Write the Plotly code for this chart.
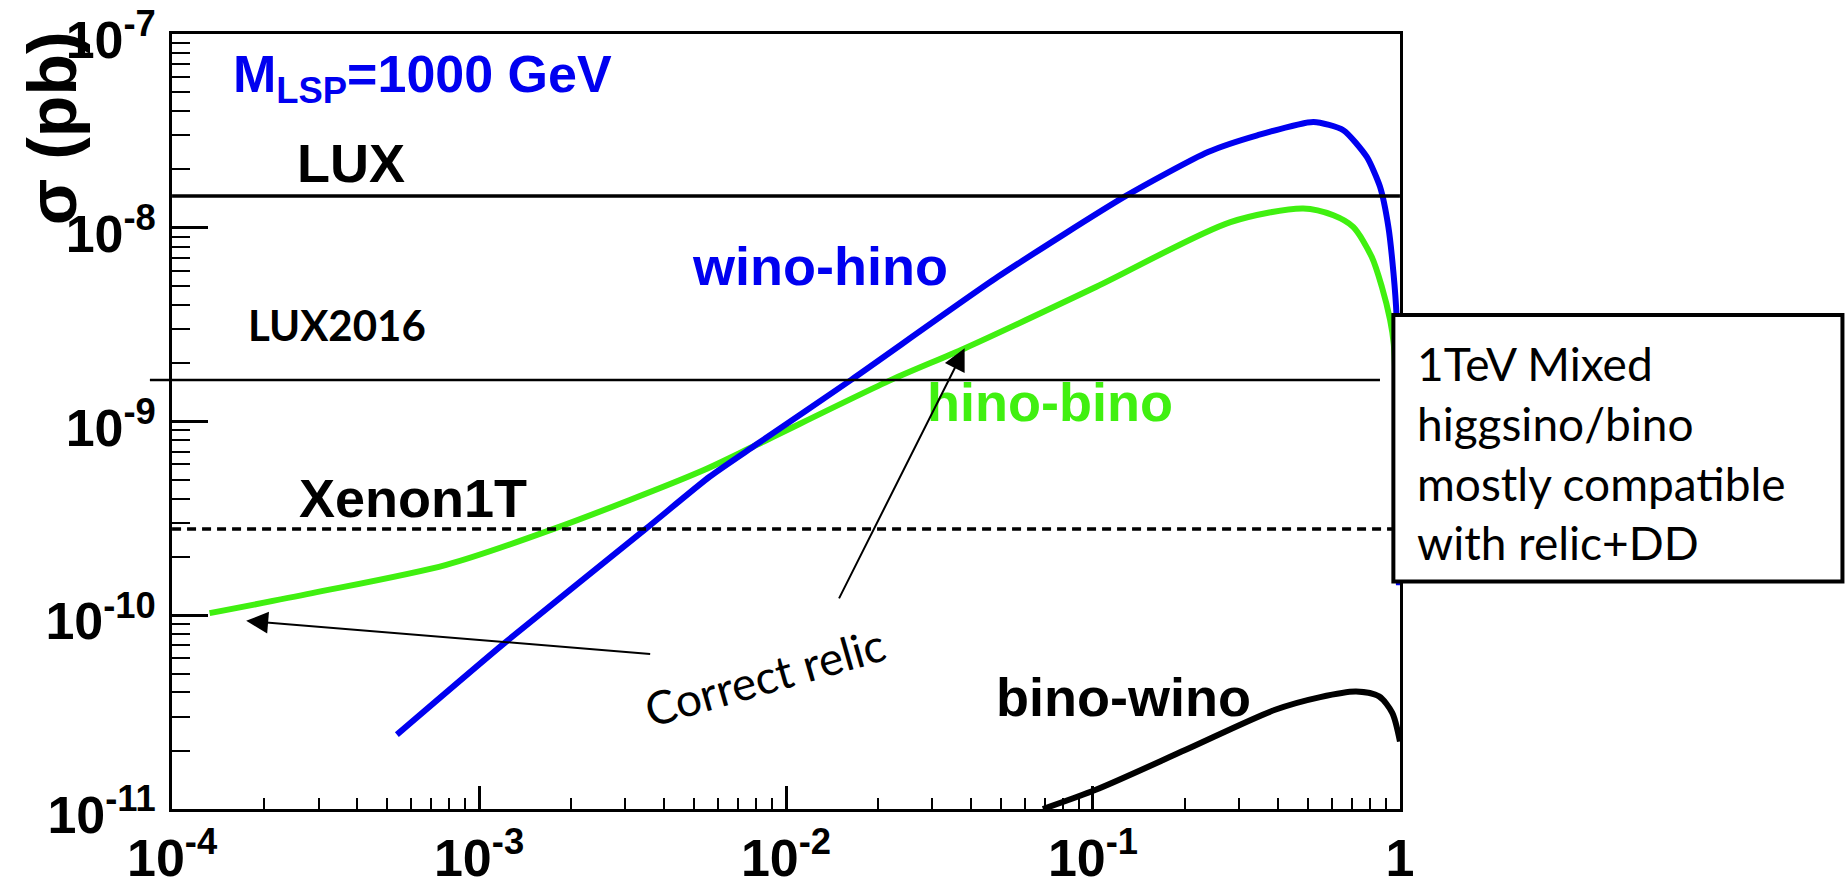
import plotly.graph_objects as go

# Spin-independent cross section (pb) versus mixing fraction, M_LSP = 1000 GeV
wino_hino_x = [5.4e-4, 1.21e-3, 3.5e-3, 5.65e-3, 8.0e-3, 1.63e-2, 4.9e-2, 0.128, 0.237,
               0.343, 0.523, 0.654, 0.78, 0.861, 0.917, 0.953, 0.975, 0.985, 0.9924]
wino_hino_y = [2.42e-11, 7.18e-11, 2.8e-10, 5.2e-10, 7.6e-10, 1.64e-9, 5.58e-9, 1.46e-8, 2.46e-8,
               3.0e-8, 3.52e-8, 3.19e-8, 2.32e-8, 1.63e-8, 1.01e-8, 5.8e-9, 3.5e-9, 1.2e-9, 1.43e-10]

hino_bino_x = [1.325e-4, 2.86e-4, 7.82e-4, 1.75e-3, 5.24e-3, 8.0e-3, 2.2e-2, 3.83e-2, 0.1026,
               0.2805, 0.484, 0.607, 0.704, 0.809, 0.873, 0.929, 0.955, 0.975]
hino_bino_y = [1.025e-10, 1.3e-10, 1.82e-10, 2.79e-10, 5.5e-10, 7.56e-10, 1.64e-9, 2.39e-9, 4.96e-9,
               1.07e-8, 1.258e-8, 1.16e-8, 1.01e-8, 7.08e-9, 4.96e-9, 3.34e-9, 2.5e-9, 1.0e-9]

bino_wino_x = [0.0687, 0.1026, 0.2005, 0.392, 0.55, 0.72, 0.855, 0.944, 1.0]
bino_wino_y = [1.0e-11, 1.26e-11, 2.02e-11, 3.25e-11, 3.78e-11, 4.04e-11, 3.81e-11, 3.13e-11, 2.23e-11]

# Direct-detection limits (pb)
lux_limit = 1.46e-8
lux2016_limit = 1.64e-9
xenon1t_limit = 2.79e-10

x_range = [1e-4, 1]
x_tick_vals = [1e-4, 1e-3, 1e-2, 1e-1, 1]
x_tick_text = ["10<sup>-4</sup>", "10<sup>-3</sup>", "10<sup>-2</sup>", "10<sup>-1</sup>", "1"]
y_tick_vals = [1e-11, 1e-10, 1e-9, 1e-8, 1e-7]
y_tick_text = ["10<sup>-11</sup>", "10<sup>-10</sup>", "10<sup>-9</sup>", "10<sup>-8</sup>", "10<sup>-7</sup>"]

x_minor = [m * 10.0 ** e for e in range(-4, 0) for m in range(2, 10)]
y_minor = [m * 10.0 ** e for e in range(-11, -7) for m in range(2, 10)]

BLUE = "#0000f0"
GREEN = "#40f010"
HELV = "Liberation Sans"
CAL = "Lato"

fig = go.Figure()

fig.add_trace(go.Scatter(x=bino_wino_x, y=bino_wino_y, mode="lines",
                         line=dict(color="black", width=6, shape="spline", smoothing=0.8)))
fig.add_trace(go.Scatter(x=hino_bino_x, y=hino_bino_y, mode="lines",
                         line=dict(color=GREEN, width=6, shape="spline", smoothing=0.8)))
fig.add_trace(go.Scatter(x=wino_hino_x, y=wino_hino_y, mode="lines",
                         line=dict(color=BLUE, width=6, shape="spline", smoothing=0.6)))

fig.add_trace(go.Scatter(x=x_range, y=[lux_limit, lux_limit], mode="lines",
                         line=dict(color="black", width=3.5)))
fig.add_trace(go.Scatter(x=x_range, y=[xenon1t_limit, xenon1t_limit], mode="lines",
                         line=dict(color="black", width=3.5, dash="9px,6px")))

# LUX2016 line reaches slightly past the left frame
fig.add_shape(type="line", xref="paper", yref="y", x0=-0.018, x1=0.9837,
              y0=lux2016_limit, y1=lux2016_limit, line=dict(color="black", width=2.5),
              layer="above")

# Comment box on the right
fig.add_shape(type="rect", xref="paper", yref="paper", x0=0.9946, x1=1.3603,
              y0=0.2935, y1=0.6373, fillcolor="white", line=dict(color="black", width=4),
              layer="above")


def label(text, x, y, size, color="black", family=HELV, weight="bold", xanchor="left", angle=0):
    fig.add_annotation(text=text, xref="paper", yref="paper", x=x, y=y,
                       xanchor=xanchor, yanchor="middle", showarrow=False, textangle=angle,
                       font=dict(family=family, size=size, color=color, weight=weight))


label("M<sub>LSP</sub>=1000 GeV", 0.0478, 0.943, 52, color=BLUE)
label("LUX", 0.0999, 0.8341, 54)
label("Xenon1T", 0.1016, 0.4007, 54)
label("wino-hino", 0.4217, 0.7006, 54, color=BLUE)
label("hino-bino", 0.6131, 0.5246, 54, color=GREEN)
label("bino-wino", 0.6693, 0.1441, 54)
label("LUX2016", 0.0600, 0.6244, 42, family=CAL)
label("Correct relic", 0.4828, 0.1711, 46, family=CAL, weight="normal", xanchor="center", angle=-16)
label("σ (pb)", -0.098, 0.878, 68, xanchor="center", angle=-90)

fig.add_annotation(text="1TeV Mixed<br>higgsino/bino<br>mostly compatible<br>with relic+DD",
                   xref="paper", yref="paper", x=1.0120, y=0.4594, xanchor="left", yanchor="middle",
                   align="left", showarrow=False,
                   font=dict(family=CAL, size=46, color="black"))

# Arrows pointing at the relic-density points
for tip, tail in [((-3.7586, -10.029), (-2.4376, -10.2006)),
                  ((-1.418, -8.6225), (-1.8296, -9.9206))]:
    fig.add_annotation(text="", x=tip[0], y=tip[1], ax=tail[0], ay=tail[1],
                       xref="x", yref="y", axref="x", ayref="y", showarrow=True,
                       arrowhead=2, arrowsize=2.2, arrowwidth=2, arrowcolor="black", standoff=0)

axis_common = dict(type="log", showgrid=False, zeroline=False, showline=True, linecolor="black",
                   linewidth=2.5, mirror=True, ticks="inside", tickcolor="black",
                   tickmode="array", automargin=False, ticklabeloverflow="allow",
                   tickfont=dict(family=HELV, size=52, color="black", weight="bold"))

fig.update_xaxes(**axis_common, range=[-4.0002, 0.0002], tickvals=x_tick_vals, ticktext=x_tick_text,
                 ticklen=23, tickwidth=2.5, ticklabelstandoff=2,
                 minor=dict(tickmode="array", tickvals=x_minor, ticks="inside", ticklen=11,
                            tickwidth=2, tickcolor="black", showgrid=False))
fig.update_yaxes(**axis_common, range=[-11.0002, -6.9998], tickvals=y_tick_vals, ticktext=y_tick_text,
                 ticklen=36, tickwidth=2.5, ticklabelstandoff=3, ticklabelshift=6,
                 minor=dict(tickmode="array", tickvals=y_minor, ticks="inside", ticklen=18,
                            tickwidth=2, tickcolor="black", showgrid=False))

fig.update_layout(width=1845, height=887, margin=dict(l=172, r=445, t=34, b=78),
                  paper_bgcolor="white", plot_bgcolor="white", showlegend=False)

fig.write_html("out.html")
